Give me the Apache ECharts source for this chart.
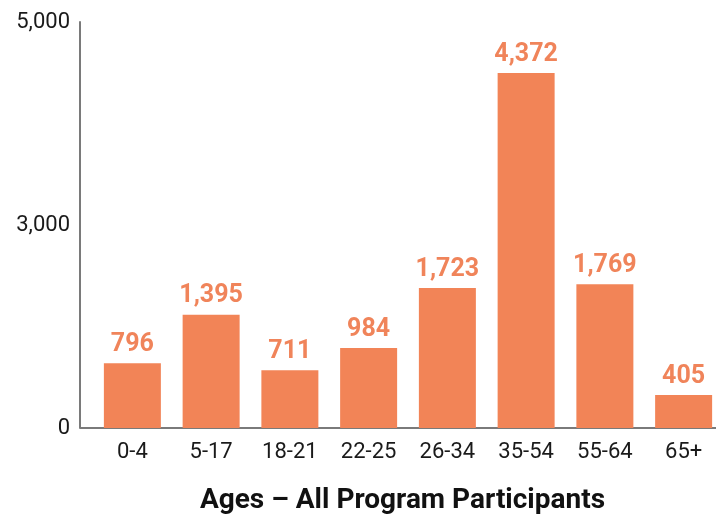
<!DOCTYPE html>
<html><head><meta charset="utf-8">
<script src="https://cdn.jsdelivr.net/npm/echarts@6/dist/echarts.min.js"></script>
<style>html,body{margin:0;padding:0;background:#fff;overflow:hidden}#c{width:716px;height:515px}</style>
</head><body><div id="c"></div>
<script>
const categories = ["0-4","5-17","18-21","22-25","26-34","35-54","55-64","65+"];
const values = [796,1395,711,984,1723,4372,1769,405];
const tickValues = [0,2500,5000];
const tickLabels = ["0","3,000","5,000"];
const title = "Ages \u2013 All Program Participants";

const font = '"Roboto","Liberation Sans",sans-serif';
const chart = echarts.init(document.getElementById('c'));
chart.setOption({
  animation:false,
  grid:{left:93,width:630,top:22,bottom:87,containLabel:false,outerBoundsMode:'none'},
  graphic:[{type:'line',shape:{x1:80,y1:428,x2:94,y2:428},style:{stroke:'#7a7a7a',lineWidth:2},z:10}],
  xAxis:{type:'category',data:categories,
    axisLine:{lineStyle:{color:'#7a7a7a',width:2}},
    axisTick:{show:false},
    axisLabel:{color:'#1a1a1a',fontSize:22,fontFamily:font,margin:13},
    name:title,nameLocation:'middle',nameGap:59,
    nameTextStyle:{color:'#111',fontSize:28,fontWeight:'bold',fontFamily:font,padding:[0,11,0,0]}
  },
  yAxis:{type:'value',min:0,max:5000,interval:2500,offset:13,
    axisLine:{show:true,lineStyle:{color:'#7a7a7a',width:2}},
    axisTick:{show:false},splitLine:{show:false},
    axisLabel:{color:'#1a1a1a',fontSize:22,fontFamily:font,margin:10,
      formatter:v=>{const i=tickValues.indexOf(v);return i>=0?tickLabels[i]:'';}}
  },
  series:[{type:'bar',data:values,barWidth:57,
    itemStyle:{color:'#F28457'},
    label:{show:true,position:'top',distance:6,color:'#F0845A',fontSize:25,fontWeight:'bold',fontFamily:font,
      formatter:p=>p.value.toLocaleString('en-US')}
  }]
});
</script></body></html>
